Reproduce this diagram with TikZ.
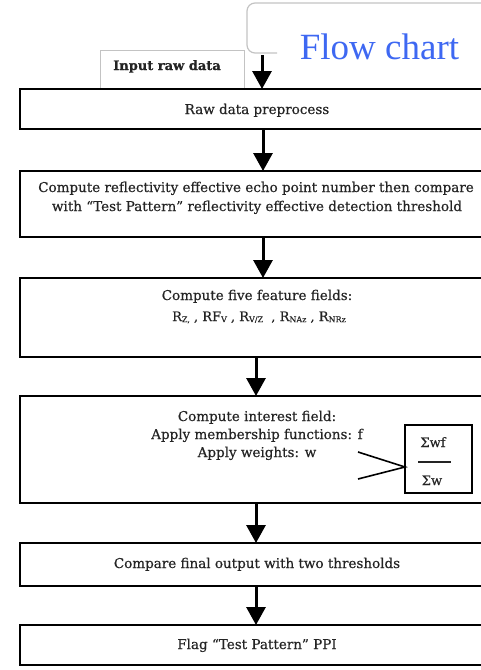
\documentclass[tikz,border=0pt]{standalone}
\usepackage{fontspec}
\setmainfont{DejaVu Serif}[FakeBold=0.5]
\newfontfamily\titlefont{Liberation Serif}
\usetikzlibrary{arrows.meta}
\definecolor{titleblue}{RGB}{62,104,242}
\definecolor{framegray}{RGB}{195,195,195}
\definecolor{inkgray}{RGB}{36,36,36}
% small subscript letters sitting just below the baseline
\newcommand\subsc[1]{\raisebox{-1.2pt}{\fontsize{8}{8}\selectfont #1}}

\begin{document}
\begin{tikzpicture}[x=1pt,y=-1pt,
  stepbox/.style={draw, line width=2.8pt, rectangle, minimum width=474pt,
    inner sep=0pt, outer sep=0pt, anchor=north west},
  flowarrow/.style={line width=3pt, -{Triangle[width=19pt,length=18pt]}},
  body/.style={anchor=base, text=inkgray, font=\fontsize{13.5}{19}\selectfont},
  every node/.style={inner sep=0pt}
]
\useasboundingbox (0,0) rectangle (481,670);
\clip (0,0) rectangle (481,670);

% title frame and caption
\draw[framegray, line width=1.2pt, rounded corners=8pt]
  (277,53) -- (247,53) -- (247,3) -- (495,3);
\node[anchor=base, text=titleblue, font=\titlefont\fontsize{37}{37}\selectfont]
  (title) at (379.5,59) {Flow chart};
\coordinate (fcb) at (262,55);

% input tab
\node[draw=framegray, line width=1pt, minimum width=144pt, minimum height=39pt,
  anchor=north west, outer sep=0pt] (tab) at (100,50) {};
\node[anchor=base, text=inkgray, font=\bfseries\fontsize{13}{15}\selectfont]
  (intext) at (167,70) {Input raw data};

% process boxes
\node[stepbox, minimum height=40pt]  (b1) at (20,89)  {};
\node[stepbox, minimum height=66pt]  (b2) at (20,171) {};
\node[stepbox, minimum height=79pt]  (b3) at (20,278) {};
\node[stepbox, minimum height=107pt] (b4) at (20,396) {};
\node[stepbox, minimum height=43pt]  (b5) at (20,543) {};
\node[stepbox, minimum height=40pt]  (b6) at (20,625) {};

% box texts
\node[body] (t1)  at (257,114) {Raw data preprocess};
\node[body] (t2a) at (256,192) {Compute reflectivity effective echo point number then compare};
\node[body] (t2b) at (257,211) {with “Test Pattern” reflectivity effective detection threshold};
\node[body] (t3a) at (257,300) {Compute five feature fields:};
\node[body, font=\fontsize{13}{19}\selectfont] (t3b) at (259,321)
  {R\subsc{Z,} , RF\subsc{V} , R\subsc{V/Z}\ \ , R\subsc{NAz} , R\subsc{NRz}};
\node[body] (t4a) at (257,421) {Compute interest field:};
\node[body] (t4b) at (257,439) {Apply membership functions: f};
\node[body] (t4c) at (257,457) {Apply weights: w};
\node[body] (t5)  at (257,568) {Compare final output with two thresholds};
\node[body] (t6)  at (257,649) {Flag “Test Pattern” PPI};

% weighted sum box
\node[draw, line width=2.8pt, minimum width=67pt, minimum height=68pt, outer sep=0pt]
  (sig) at (438.5,459) {};
\node[body, font=\fontsize{13}{19}\selectfont] (swf) at (433,447) {Σwf};
\node[body, font=\fontsize{13}{19}\selectfont] (sw)  at (432,485) {Σw};
\draw[inkgray, line width=1.3pt] (418,462) -- (451,462);
\coordinate (apex) at ([yshift=-8pt]sig.west);
\draw[line width=1.6pt] (358,452) -- (apex) -- (358,479);

% connectors
\draw[flowarrow] (fcb) -- (fcb |- b1.north);
\draw[flowarrow] ([xshift=6pt]b1.south) -- ([xshift=6pt]b2.north);
\draw[flowarrow] ([xshift=6pt]b2.south) -- ([xshift=6pt]b3.north);
\draw[flowarrow] ([xshift=-1pt]b3.south) -- ([xshift=-1pt]b4.north);
\draw[flowarrow] ([xshift=-1pt]b4.south) -- ([xshift=-1pt]b5.north);
\draw[flowarrow] ([xshift=-1pt]b5.south) -- ([xshift=-1pt]b6.north);
\end{tikzpicture}
\end{document}
